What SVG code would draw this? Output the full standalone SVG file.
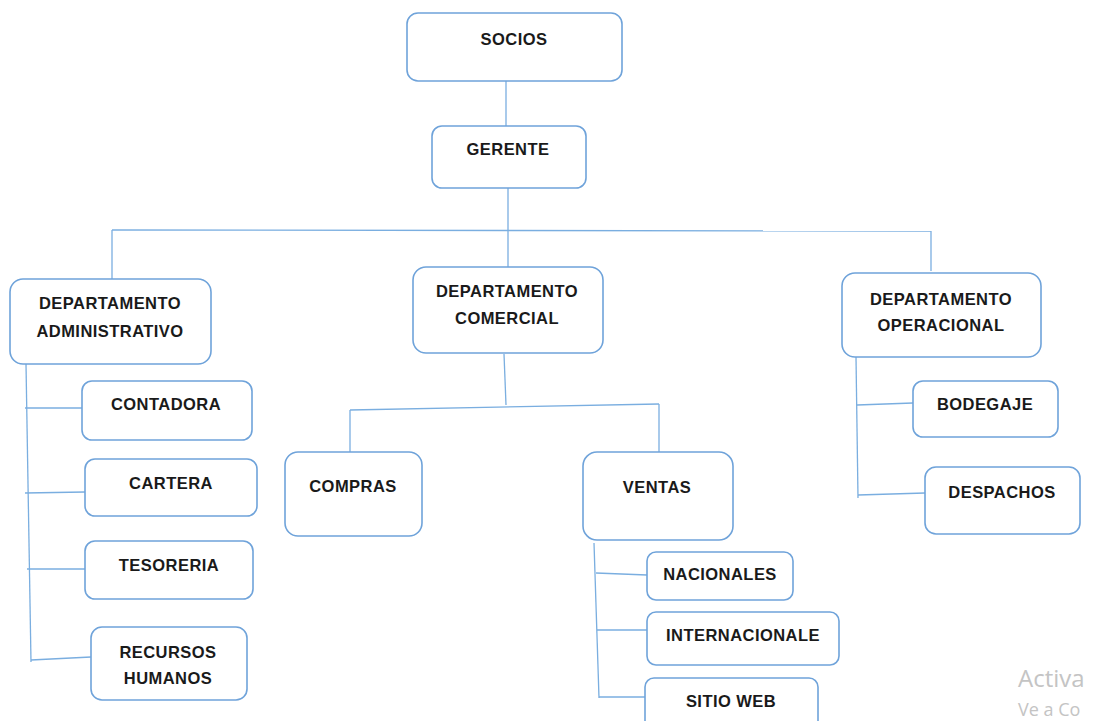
<svg xmlns="http://www.w3.org/2000/svg" width="1093" height="721" viewBox="0 0 1093 721">
<style>
.box{fill:#fff;stroke:#6fa3da;stroke-width:1.6}
.t{font-family:"Liberation Sans",Arial,sans-serif;font-weight:bold;font-size:16.5px;letter-spacing:0.45px;fill:#1a1a1a;text-anchor:middle}
.c{fill:none;stroke:#7aaee0;stroke-width:1.3}
.w{font-family:"Open Sans","Liberation Sans",sans-serif;fill:#c4c4c4}
</style>
<rect width="1093" height="721" fill="#fff"/>
<g id="connectors">
<line class="c" x1="506" y1="81" x2="506" y2="126"/>
<line class="c" x1="508" y1="188" x2="508" y2="267"/>
<line class="c" x1="112" y1="230" x2="931" y2="231"/>
<line class="c" x1="112" y1="230" x2="112" y2="279"/>
<line class="c" x1="931" y1="231" x2="931" y2="271"/>
<line class="c" x1="26" y1="364" x2="31" y2="662"/>
<line class="c" x1="25" y1="408" x2="82" y2="408"/>
<line class="c" x1="25" y1="493" x2="85" y2="492"/>
<line class="c" x1="27" y1="569" x2="85" y2="569"/>
<line class="c" x1="31" y1="660" x2="91" y2="657"/>
<line class="c" x1="504" y1="354" x2="506" y2="405"/>
<line class="c" x1="350" y1="410" x2="659" y2="404"/>
<line class="c" x1="350" y1="410" x2="350" y2="452"/>
<line class="c" x1="659" y1="404" x2="659" y2="452"/>
<line class="c" x1="594" y1="543" x2="599" y2="698"/>
<line class="c" x1="596" y1="573" x2="647" y2="575"/>
<line class="c" x1="597" y1="630" x2="647" y2="630"/>
<line class="c" x1="599" y1="697" x2="645" y2="697"/>
<line class="c" x1="856" y1="357" x2="858" y2="498"/>
<line class="c" x1="857" y1="405" x2="913" y2="403"/>
<line class="c" x1="858" y1="495" x2="925" y2="493"/>
</g>
<g id="socios"><rect class="box" x="407" y="13" width="215" height="68" rx="11"/><text class="t" x="514" y="45">SOCIOS</text></g>
<g id="gerente"><rect class="box" x="432" y="126" width="154" height="62" rx="10"/><text class="t" x="508" y="155">GERENTE</text></g>
<g id="dep-admin"><rect class="box" x="10" y="279" width="201" height="85" rx="13"/><text class="t" x="110" y="309">DEPARTAMENTO</text><text class="t" x="110" y="337">ADMINISTRATIVO</text></g>
<g id="dep-comercial"><rect class="box" x="413" y="267" width="190" height="86" rx="13"/><text class="t" x="507" y="297">DEPARTAMENTO</text><text class="t" x="507" y="324">COMERCIAL</text></g>
<g id="dep-operacional"><rect class="box" x="842" y="273" width="199" height="84" rx="13"/><text class="t" x="941" y="305">DEPARTAMENTO</text><text class="t" x="941" y="331">OPERACIONAL</text></g>
<g id="contadora"><rect class="box" x="82" y="381" width="170" height="59" rx="10"/><text class="t" x="166" y="410">CONTADORA</text></g>
<g id="cartera"><rect class="box" x="85" y="459" width="172" height="57" rx="10"/><text class="t" x="171" y="489">CARTERA</text></g>
<g id="tesoreria"><rect class="box" x="85" y="541" width="168" height="58" rx="10"/><text class="t" x="169" y="571">TESORERIA</text></g>
<g id="recursos-humanos"><rect class="box" x="91" y="627" width="156" height="73" rx="11"/><text class="t" x="168" y="658">RECURSOS</text><text class="t" x="168" y="684">HUMANOS</text></g>
<g id="compras"><rect class="box" x="285" y="452" width="137" height="84" rx="13"/><text class="t" x="353" y="492">COMPRAS</text></g>
<g id="ventas"><rect class="box" x="583" y="452" width="150" height="88" rx="14"/><text class="t" x="657" y="493">VENTAS</text></g>
<g id="nacionales"><rect class="box" x="647" y="552" width="146" height="48" rx="9"/><text class="t" x="720" y="580">NACIONALES</text></g>
<g id="internacionale"><rect class="box" x="647" y="612" width="192" height="53" rx="9"/><text class="t" x="743" y="641">INTERNACIONALE</text></g>
<g id="sitio-web"><rect class="box" x="645" y="678" width="173" height="60" rx="9"/><text class="t" x="731" y="707">SITIO WEB</text></g>
<g id="bodegaje"><rect class="box" x="913" y="381" width="145" height="56" rx="10"/><text class="t" x="985" y="410">BODEGAJE</text></g>
<g id="despachos"><rect class="box" x="925" y="467" width="155" height="67" rx="11"/><text class="t" x="1002" y="498">DESPACHOS</text></g>
<text class="w" x="1018" y="687" font-size="24">Activa</text>
<text class="w" x="1018" y="716" font-size="18">Ve a Co</text>
</svg>
